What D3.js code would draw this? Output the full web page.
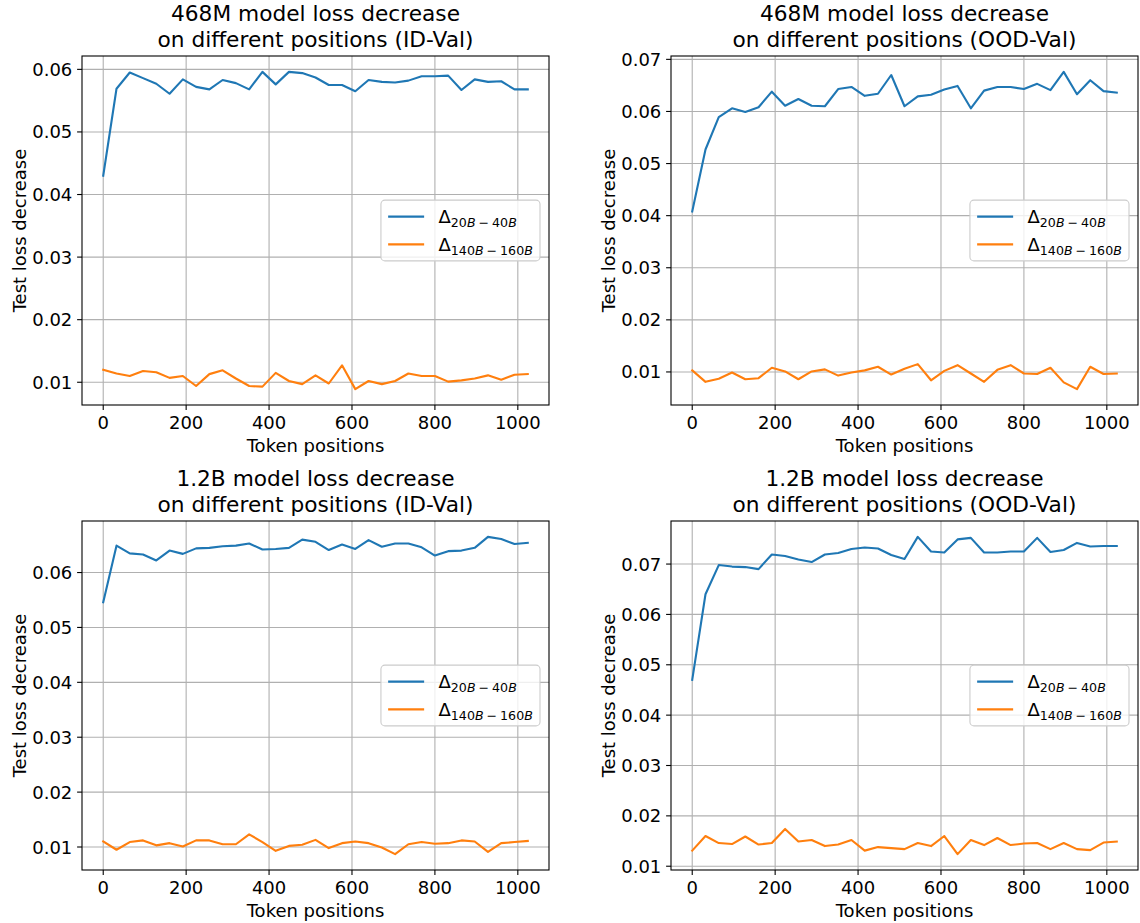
<!DOCTYPE html>
<html>
<head>
<meta charset="utf-8">
<script src="https://cdnjs.cloudflare.com/ajax/libs/d3/7.8.5/d3.min.js"></script>
<style>
body { margin: 0; background: #fff; }
svg text { font-family: "DejaVu Sans", sans-serif; fill: #000; }
</style>
</head>
<body>
<svg id="chart" width="1140" height="923"></svg>
<script>
//Token positions on the x axis
var positions = [0, 32, 64, 96, 128, 160, 192, 224, 256, 288, 320, 352, 384, 416, 448, 480, 512,
                 544, 576, 608, 640, 672, 704, 736, 768, 800, 832, 864, 896, 928, 960, 992, 1024];
var xTicks = [0, 200, 400, 600, 800, 1000];

//468M model, ID-Val
var delta20to40_468M_id = [0.0430, 0.0569, 0.0595, 0.0586, 0.0577, 0.0561, 0.0584, 0.0572, 0.0568, 0.0583, 0.0578,
                           0.0568, 0.0596, 0.0576, 0.0596, 0.0594, 0.0587, 0.0575, 0.0575, 0.0565, 0.0583, 0.0580,
                           0.0579, 0.0582, 0.0589, 0.0589, 0.0590, 0.0567, 0.0584, 0.0580, 0.0581, 0.0568, 0.0568];
var delta140to160_468M_id = [0.0120, 0.0114, 0.0110, 0.0118, 0.0116, 0.0107, 0.0110, 0.0094, 0.0113, 0.0119, 0.0106,
                             0.0094, 0.0093, 0.0115, 0.0102, 0.0097, 0.0111, 0.0098, 0.0127, 0.0089, 0.0102, 0.0097,
                             0.0102, 0.0114, 0.0110, 0.0110, 0.0101, 0.0103, 0.0106, 0.0111, 0.0104, 0.0112, 0.0113];

//468M model, OOD-Val
var delta20to40_468M_ood = [0.0408, 0.0527, 0.0589, 0.0606, 0.0599, 0.0608, 0.0638, 0.0611, 0.0624, 0.0611, 0.0610,
                            0.0643, 0.0647, 0.0630, 0.0634, 0.0670, 0.0610, 0.0629, 0.0632, 0.0642, 0.0649, 0.0606,
                            0.0640, 0.0647, 0.0647, 0.0643, 0.0653, 0.0641, 0.0676, 0.0633, 0.0660, 0.0639, 0.0636];
var delta140to160_468M_ood = [0.0103, 0.0081, 0.0087, 0.0099, 0.0086, 0.0088, 0.0108, 0.0101, 0.0086, 0.0101, 0.0105,
                              0.0093, 0.0099, 0.0103, 0.0110, 0.0095, 0.0106, 0.0115, 0.0084, 0.0102, 0.0113, 0.0097,
                              0.0081, 0.0104, 0.0113, 0.0097, 0.0096, 0.0108, 0.0080, 0.0067, 0.0110, 0.0096, 0.0097];

//1.2B model, ID-Val
var delta20to40_1B_id = [0.0546, 0.0649, 0.0635, 0.0633, 0.0622, 0.0640, 0.0634, 0.0644, 0.0645, 0.0648, 0.0649,
                         0.0653, 0.0642, 0.0643, 0.0645, 0.0660, 0.0656, 0.0641, 0.0651, 0.0643, 0.0659, 0.0647,
                         0.0653, 0.0653, 0.0646, 0.0631, 0.0639, 0.0640, 0.0645, 0.0665, 0.0661, 0.0652, 0.0654];
var delta140to160_1B_id = [0.0110, 0.0095, 0.0109, 0.0112, 0.0103, 0.0107, 0.0101, 0.0112, 0.0112, 0.0105, 0.0105,
                           0.0123, 0.0109, 0.0093, 0.0102, 0.0104, 0.0113, 0.0098, 0.0107, 0.0110, 0.0107, 0.0099,
                           0.0087, 0.0105, 0.0109, 0.0106, 0.0107, 0.0112, 0.0110, 0.0091, 0.0107, 0.0109, 0.0111];

//1.2B model, OOD-Val
var delta20to40_1B_ood = [0.0470, 0.0640, 0.0698, 0.0695, 0.0694, 0.0690, 0.0719, 0.0716, 0.0709, 0.0704, 0.0719,
                          0.0722, 0.0730, 0.0733, 0.0731, 0.0718, 0.0710, 0.0754, 0.0725, 0.0723, 0.0749, 0.0752,
                          0.0723, 0.0723, 0.0725, 0.0725, 0.0752, 0.0724, 0.0728, 0.0742, 0.0735, 0.0736, 0.0736];
var delta140to160_1B_ood = [0.0131, 0.0160, 0.0146, 0.0144, 0.0159, 0.0143, 0.0146, 0.0174, 0.0149, 0.0152, 0.0140,
                            0.0143, 0.0152, 0.0131, 0.0138, 0.0136, 0.0134, 0.0146, 0.0140, 0.0160, 0.0124, 0.0152,
                            0.0142, 0.0156, 0.0142, 0.0145, 0.0146, 0.0134, 0.0146, 0.0134, 0.0132, 0.0147, 0.0149];

var titleLines = [
    ["468M model loss decrease", "on different positions (ID-Val)"],
    ["468M model loss decrease", "on different positions (OOD-Val)"],
    ["1.2B model loss decrease", "on different positions (ID-Val)"],
    ["1.2B model loss decrease", "on different positions (OOD-Val)"]
];
var seriesBlue = [delta20to40_468M_id, delta20to40_468M_ood, delta20to40_1B_id, delta20to40_1B_ood];
var seriesOrange = [delta140to160_468M_id, delta140to160_468M_ood, delta140to160_1B_id, delta140to160_1B_ood];

var legendSubs = [["20", "40"], ["140", "160"]];
var colors = ["#1f77b4", "#ff7f0e"];

var svg = d3.select("#chart");

//Axes boxes in pixels (left, top); all share the same size
var boxW = 467, boxH = 349;
var boxes = [[82, 56], [671, 56], [82, 521], [671, 521]];
var fontPx = 18;

for (var i = 0; i < 4; i++) {
    drawPanel(boxes[i][0], boxes[i][1], titleLines[i], [seriesBlue[i], seriesOrange[i]]);
}

//Draws one subplot with grid, two lines, ticks, labels and legend
function drawPanel(left, top, title, series) {
    var g = svg.append("g");
    var xPad = (positions[positions.length - 1] - positions[0]) * 0.05;
    var x = d3.scaleLinear()
        .domain([positions[0] - xPad, positions[positions.length - 1] + xPad])
        .range([left, left + boxW]);

    var all = series[0].concat(series[1]);
    var lo = d3.min(all), hi = d3.max(all);
    var yPad = (hi - lo) * 0.05;
    var y = d3.scaleLinear().domain([lo - yPad, hi + yPad]).range([top + boxH, top]);

    var yTicks = [];
    for (var k = Math.ceil(y.domain()[0] * 100); k <= Math.floor(y.domain()[1] * 100); k++) {
        yTicks.push(k / 100);
    }

    //Grid lines
    g.selectAll(".gx").data(xTicks).enter().append("line")
        .attr("x1", function(d) { return x(d); }).attr("x2", function(d) { return x(d); })
        .attr("y1", top).attr("y2", top + boxH)
        .attr("stroke", "#b0b0b0").attr("stroke-width", 1.1);
    g.selectAll(".gy").data(yTicks).enter().append("line")
        .attr("x1", left).attr("x2", left + boxW)
        .attr("y1", function(d) { return y(d); }).attr("y2", function(d) { return y(d); })
        .attr("stroke", "#b0b0b0").attr("stroke-width", 1.1);

    //Data lines
    var line = d3.line()
        .x(function(d, j) { return x(positions[j]); })
        .y(function(d) { return y(d); });
    for (var s = 0; s < series.length; s++) {
        g.append("path")
            .attr("d", line(series[s]))
            .attr("fill", "none")
            .attr("stroke", colors[s])
            .attr("stroke-width", 2.1)
            .attr("stroke-linejoin", "round")
            .attr("stroke-linecap", "square");
    }

    //Spines
    g.append("rect")
        .attr("x", left).attr("y", top).attr("width", boxW).attr("height", boxH)
        .attr("fill", "none").attr("stroke", "#000").attr("stroke-width", 1.1);

    //Ticks and tick labels
    g.selectAll(".tx").data(xTicks).enter().append("line")
        .attr("x1", function(d) { return x(d); }).attr("x2", function(d) { return x(d); })
        .attr("y1", top + boxH).attr("y2", top + boxH + 4.9)
        .attr("stroke", "#000").attr("stroke-width", 1.1);
    g.selectAll(".lx").data(xTicks).enter().append("text")
        .attr("x", function(d) { return x(d); })
        .attr("y", top + boxH + 23.5)
        .attr("text-anchor", "middle")
        .style("font-size", fontPx + "px")
        .text(function(d) { return d; });
    g.selectAll(".ty").data(yTicks).enter().append("line")
        .attr("x1", left - 4.9).attr("x2", left)
        .attr("y1", function(d) { return y(d); }).attr("y2", function(d) { return y(d); })
        .attr("stroke", "#000").attr("stroke-width", 1.1);
    g.selectAll(".ly").data(yTicks).enter().append("text")
        .attr("x", left - 9.7)
        .attr("y", function(d) { return y(d) + 6.5; })
        .attr("text-anchor", "end")
        .style("font-size", fontPx + "px")
        .text(function(d) { return d3.format(".2f")(d); });

    //Axis labels
    g.append("text")
        .attr("x", left + boxW / 2).attr("y", top + boxH + 47)
        .attr("text-anchor", "middle")
        .style("font-size", fontPx + "px")
        .text("Token positions");
    g.append("text")
        .attr("transform", "translate(" + (left - 56) + "," + (top + boxH / 2) + ") rotate(-90)")
        .attr("text-anchor", "middle")
        .style("font-size", fontPx + "px")
        .text("Test loss decrease");

    //Title, two lines
    g.append("text")
        .attr("x", left + boxW / 2).attr("y", top - 35)
        .attr("text-anchor", "middle")
        .style("font-size", "21.7px")
        .text(title[0]);
    g.append("text")
        .attr("x", left + boxW / 2).attr("y", top - 9)
        .attr("text-anchor", "middle")
        .style("font-size", "21.7px")
        .text(title[1]);

    drawLegend(g, left, top);
}

//Legend at center right of the axes
function drawLegend(g, left, top) {
    var fs = fontPx, bp = 0.4 * fs, handleLen = 2 * fs, htp = 0.8 * fs;
    var subPx = 0.7 * fs;
    var rowH = 18.7, ls = 0.5 * fs;
    var legH = 2 * bp + 2 * rowH + ls;
    var right = left + boxW - 0.5 * fs;
    var legTop = top + boxH / 2 - legH / 2;

    var frame = g.append("rect");
    var texts = [];
    for (var r = 0; r < legendSubs.length; r++) {
        var t = g.append("text").style("font-size", fs + "px");
        t.append("tspan").text("\u0394");
        t.append("tspan").attr("dy", 4).style("font-size", subPx + "px").text(legendSubs[r][0]);
        t.append("tspan").style("font-size", subPx + "px").style("font-style", "italic").text("B");
        t.append("tspan").attr("dx", 3).style("font-size", subPx + "px").text("\u2212");
        t.append("tspan").attr("dx", 3).style("font-size", subPx + "px").text(legendSubs[r][1]);
        t.append("tspan").style("font-size", subPx + "px").style("font-style", "italic").text("B");
        texts.push(t);
    }
    var textW = d3.max(texts, function(t) { return t.node().getBBox().width; });
    var legW = 2 * bp + handleLen + htp + textW;
    var legLeft = right - legW;

    frame.attr("x", legLeft).attr("y", legTop).attr("width", legW).attr("height", legH)
        .attr("rx", 4).attr("ry", 4)
        .attr("fill", "#fff").attr("fill-opacity", 0.8)
        .attr("stroke", "#cccccc").attr("stroke-width", 1.1);

    for (var r2 = 0; r2 < texts.length; r2++) {
        var cy = legTop + bp + rowH / 2 + r2 * (rowH + ls);
        g.append("line")
            .attr("x1", legLeft + bp).attr("x2", legLeft + bp + handleLen)
            .attr("y1", cy).attr("y2", cy)
            .attr("stroke", colors[r2]).attr("stroke-width", 2.1);
        texts[r2].attr("x", legLeft + bp + handleLen + htp).attr("y", cy + 6.5);
    }
}
</script>
</body>
</html>
